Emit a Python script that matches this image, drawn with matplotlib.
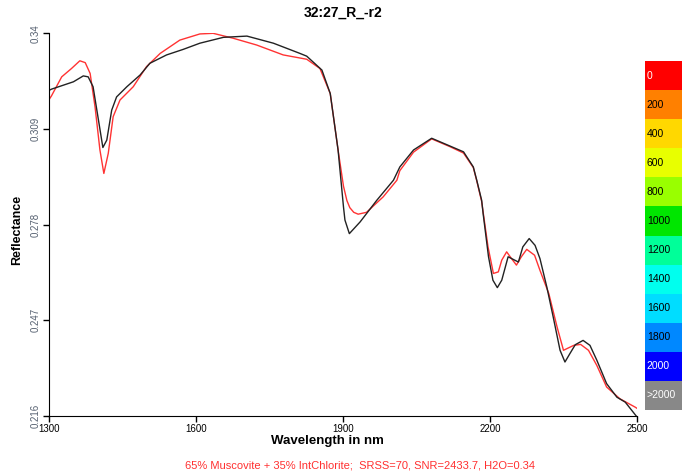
import matplotlib
matplotlib.use("Agg")
import matplotlib.pyplot as plt

plt.rcParams['font.family'] = ['Liberation Sans', 'DejaVu Sans']

# measured spectrum (black)
wl_meas = [1300, 1305, 1350, 1370, 1380, 1390, 1401, 1410, 1418, 1428, 1438, 1459,
           1486, 1506, 1540, 1574, 1608, 1656, 1704, 1758, 1812, 1826, 1857, 1874,
           1890, 1901, 1904, 1913, 1935, 1969, 2003, 2016, 2044, 2081, 2118, 2146,
           2166, 2173, 2183, 2186, 2197, 2206, 2215, 2224, 2237, 2248, 2258, 2267,
           2280, 2292, 2302, 2316, 2329, 2343, 2353, 2363, 2374, 2390, 2404, 2418,
           2438, 2459, 2476, 2492, 2500]
refl_meas = [0.3215, 0.3219, 0.3243, 0.3262, 0.3259, 0.3227, 0.3119, 0.3030, 0.3054,
             0.3151, 0.3194, 0.3227, 0.3265, 0.3303, 0.3330, 0.3348, 0.3368, 0.3387,
             0.3391, 0.3368, 0.3335, 0.3326, 0.3281, 0.3205, 0.3022, 0.2838, 0.2795,
             0.2751, 0.2789, 0.2859, 0.2924, 0.2967, 0.3022, 0.3060, 0.3035, 0.3016,
             0.2967, 0.2924, 0.2859, 0.2816, 0.2676, 0.2600, 0.2576, 0.2600, 0.2676,
             0.2667, 0.2659, 0.2708, 0.2735, 0.2713, 0.2670, 0.2578, 0.2481, 0.2373,
             0.2335, 0.2362, 0.2391, 0.2405, 0.2389, 0.2341, 0.2265, 0.2221, 0.2205,
             0.2173, 0.2157]

# fitted spectrum (red)
wl_fit = [1300, 1305, 1326, 1346, 1363, 1374, 1384, 1394, 1404, 1412, 1421, 1431,
          1445, 1472, 1499, 1527, 1567, 1608, 1635, 1676, 1724, 1778, 1826, 1853,
          1874, 1890, 1901, 1908, 1914, 1922, 1931, 1948, 1982, 2010, 2016, 2044,
          2081, 2118, 2146, 2166, 2173, 2183, 2196, 2207, 2217, 2224, 2234, 2244,
          2254, 2264, 2275, 2291, 2302, 2320, 2337, 2350, 2371, 2385, 2401, 2418,
          2438, 2465, 2496, 2500]
refl_fit = [0.3185, 0.3197, 0.3259, 0.3286, 0.3311, 0.3305, 0.3270, 0.3162, 0.3022,
            0.2946, 0.3011, 0.3130, 0.3184, 0.3227, 0.3292, 0.3335, 0.3378, 0.3398,
            0.3400, 0.3384, 0.3362, 0.3330, 0.3316, 0.3286, 0.3205, 0.3022, 0.2905,
            0.2858, 0.2835, 0.2820, 0.2814, 0.2820, 0.2870, 0.2924, 0.2955, 0.3015,
            0.3058, 0.3033, 0.3012, 0.2965, 0.2922, 0.2855, 0.2708, 0.2622, 0.2627,
            0.2665, 0.2692, 0.2670, 0.2649, 0.2676, 0.2700, 0.2681, 0.2632, 0.2557,
            0.2448, 0.2373, 0.2389, 0.2392, 0.2373, 0.2324, 0.2254, 0.2216, 0.2189,
            0.2185]

x_ticks = [1300, 1600, 1900, 2200, 2500]
y_ticks = [0.216, 0.247, 0.278, 0.309, 0.34]

legend_labels = ["0", "200", "400", "600", "800", "1000", "1200", "1400",
                 "1600", "1800", "2000", ">2000"]
legend_colors = ["#ff0000", "#ff8000", "#ffd800", "#e8ff00", "#99ff00", "#00e600",
                 "#00ff99", "#00ffee", "#00ddff", "#0088ff", "#0000ff", "#888888"]
legend_text = ["white", "black", "black", "black", "black", "black", "black",
               "black", "black", "black", "white", "white"]

fig = plt.figure(figsize=(6.82, 4.76), dpi=100)
ax = fig.add_axes([0.0718, 0.126, 0.8622, 0.804])

ax.plot(wl_fit, refl_fit, color="#ff3333", lw=1.0)
ax.plot(wl_meas, refl_meas, color="#222222", lw=1.0)

ax.set_xlim(1300, 2500)
ax.set_ylim(0.216, 0.34)
ax.set_xticks(x_ticks)
ax.set_yticks(y_ticks)
ax.set_xticklabels([str(v) for v in x_ticks], fontsize=7)
ax.set_yticklabels([f"{v:g}" for v in y_ticks], fontsize=7, rotation=90,
                   va="center", color="#556070")
ax.tick_params(length=4, width=1, pad=2)
for s in ["top", "right"]:
    ax.spines[s].set_visible(False)

ax.set_title("32:27_R_-r2", fontsize=10, fontweight="bold", pad=12)
fig.text(17 / 682, 1 - 230 / 476, "Reflectance", rotation=90, ha="center",
         va="center", fontsize=9, fontweight="bold")
fig.text(327 / 682, 1 - 441 / 476, "Wavelength in nm", ha="center", va="center",
         fontsize=9.5, fontweight="bold")
fig.text(360 / 682, 1 - 465 / 476,
         "65% Muscovite + 35% IntChlorite;  SRSS=70, SNR=2433.7, H2O=0.34",
         ha="center", va="center", fontsize=8, color="#ff3030")

# colour key on the right
cax = fig.add_axes([645 / 682, 1 - 410 / 476, 37 / 682, 349 / 476])
n = len(legend_labels)
for i, (lab, col, tc) in enumerate(zip(legend_labels, legend_colors, legend_text)):
    cax.barh(n - 1 - i, 1, height=1, left=0, color=col)
    cax.text(0.05, n - 1 - i, lab, ha="left", va="center", fontsize=7.5, color=tc)
cax.set_xlim(0, 1)
cax.set_ylim(-0.5, n - 0.5)
cax.axis("off")

fig.savefig("out.png", dpi=100)
